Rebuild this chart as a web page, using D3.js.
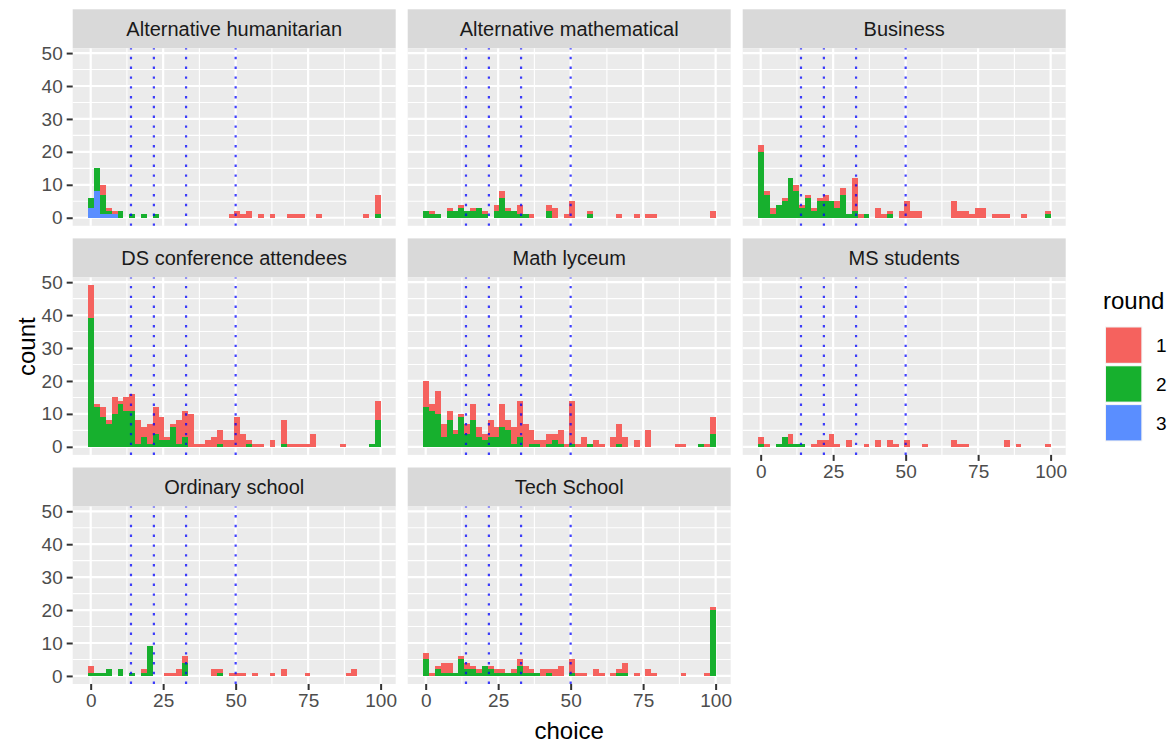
<!DOCTYPE html>
<html>
<head>
<meta charset="utf-8">
<script src="https://cdn.jsdelivr.net/npm/d3@7"></script>
<style>
  html, body { margin: 0; padding: 0; background: #ffffff; }
  svg { display: block; }
  text { font-family: "Liberation Sans", Arial, Helvetica, sans-serif; }
</style>
</head>
<body>
<svg id="chart" width="1175" height="747"></svg>
<script>
// ---------------- DATA ----------------
const facets = ["Alternative humanitarian", "Alternative mathematical", "Business",
                "DS conference attendees", "Math lyceum", "MS students",
                "Ordinary school", "Tech School"];
const rounds = ["1", "2", "3"];
const roundColors = ["#F5625E", "#17B02E", "#5A8EFF"];

// histogram bins: 50 bins from binStart with width binWidth (choice units)
const binStart = -0.8;
const binWidth = 2.016;
const binCount = 50;

const refLines = [13.9, 21.8, 32.9, 50];
const xTicks = [0, 25, 50, 75, 100];
const yTicks = [0, 10, 20, 30, 40, 50];

// counts per bin (50 bins) for each facet and round
const altHumR1 = [0,0,3,1,1, 0,0,0,0,0, 0,0,0,0,0, 0,0,0,0,0, 0,0,0,0,1, 2,1,2,0,1, 0,1,0,0,1, 1,1,0,0,1, 0,0,0,0,0, 0,0,1,0,6];
const altHumR2 = [3,7,6,1,0, 2,0,1,0,1, 0,1,0,0,0, 0,0,0,0,0, 0,0,0,0,0, 0,0,0,0,0, 0,0,0,0,0, 0,0,0,0,0, 0,0,0,0,0, 0,0,0,0,1];
const altHumR3 = [3,8,1,1,1, 0,0,0,0,0, 0,0,0,0,0, 0,0,0,0,0, 0,0,0,0,0, 0,0,0,0,0, 0,0,0,0,0, 0,0,0,0,0, 0,0,0,0,0, 0,0,0,0,0];

const altMathR1 = [0,1,0,0,1, 0,1,0,1,0, 1,0,2,2,1, 0,3,0,1,0, 0,2,3,0,1, 5,0,0,1,0, 0,0,0,1,0, 0,1,0,1,1, 0,0,0,0,0, 0,0,0,0,2];
const altMathR2 = [2,1,1,0,2, 2,3,2,2,3, 1,0,2,6,2, 2,1,1,0,0, 0,2,0,0,0, 0,0,0,1,0, 0,0,0,0,0, 0,0,0,0,0, 0,0,0,0,0, 0,0,0,0,0];

const businessR1 = [2,1,2,0,1, 0,2,1,1,1, 1,2,0,2,2, 0,10,1,0,0, 3,1,1,0,2, 5,2,2,0,0, 0,0,0,5,2, 2,1,3,3,0, 1,1,1,0,0, 1,0,0,0,1];
const businessR2 = [20,7,1,4,5, 12,8,3,6,2, 5,5,5,3,7, 1,2,0,1,0, 0,0,1,0,0, 0,0,0,0,0, 0,0,0,0,0, 0,0,0,0,0, 0,0,0,0,0, 0,0,0,0,1];

const dsR1 = [10,1,3,1,5, 1,4,5,7,3, 6,8,7,1,1, 7,8,10,1,1, 2,3,4,2,2, 9,4,1,1,1, 0,2,0,7,1, 1,1,1,4,0, 0,0,0,1,0, 0,0,0,0,6];
const dsR2 = [39,12,9,7,10, 13,11,11,1,3, 1,4,2,2,6, 1,3,0,0,0, 0,0,1,0,0, 0,0,1,0,0, 0,0,0,1,0, 0,0,0,0,0, 0,0,0,0,0, 0,0,0,1,8];

const mathLycR1 = [8,2,7,4,3, 1,1,3,5,3, 2,5,3,7,3, 5,11,7,4,1, 2,3,2,4,1, 13,1,3,0,2, 1,0,3,6,3, 0,2,0,5,0, 0,0,0,1,1, 0,0,0,1,5];
const mathLycR2 = [12,11,10,3,8, 4,9,4,8,3, 2,3,3,6,5, 1,3,0,1,1, 0,1,2,1,0, 1,0,0,1,0, 0,0,0,1,0, 0,0,0,0,0, 0,0,0,0,0, 0,0,1,0,4];

const msR1 = [2,1,0,0,0, 3,0,0,0,1, 2,2,4,1,0, 2,0,0,1,0, 2,0,2,1,0, 2,0,0,1,0, 0,0,0,2,1, 1,0,0,0,0, 0,0,2,0,1, 0,0,0,0,1];
const msR2 = [1,0,0,1,3, 1,1,1,0,0, 0,0,0,0,0, 0,0,0,0,0, 0,0,0,0,0, 0,0,0,0,0, 0,0,0,0,0, 0,0,0,0,0, 0,0,0,0,0, 0,0,0,0,0];

const ordR1 = [2,0,0,0,0, 0,0,0,0,1, 0,0,0,1,1, 2,2,0,0,0, 0,2,1,0,1, 1,1,0,1,0, 0,1,0,2,0, 0,0,1,0,0, 0,0,0,0,1, 2,0,0,0,0];
const ordR2 = [1,1,1,2,0, 2,0,1,0,1, 9,0,0,0,0, 0,4,0,0,0, 0,0,1,0,0, 0,0,0,0,0, 0,0,0,0,0, 0,0,0,0,0, 0,0,0,0,0, 0,0,0,0,0];

const techR1 = [2,1,1,3,3, 0,1,2,1,1, 0,1,1,1,0, 1,2,2,1,0, 2,1,2,3,0, 4,1,1,0,2, 1,0,1,1,3, 0,1,0,2,1, 0,0,0,0,1, 0,0,0,1,1];
const techR2 = [5,0,2,1,1, 1,5,2,2,1, 3,2,1,1,1, 1,3,1,1,1, 0,1,0,0,0, 1,0,0,0,0, 0,0,0,1,1, 0,0,0,0,0, 0,0,0,0,0, 0,0,0,0,20];

const zeros = new Array(binCount).fill(0);
const facetCounts = [
  [altHumR1, altHumR2, altHumR3],
  [altMathR1, altMathR2, zeros],
  [businessR1, businessR2, zeros],
  [dsR1, dsR2, zeros],
  [mathLycR1, mathLycR2, zeros],
  [msR1, msR2, zeros],
  [ordR1, ordR2, zeros],
  [techR1, techR2, zeros]
];

// ---------------- LAYOUT ----------------
const svg = d3.select("#chart");
const panelW = 323, panelH = 177.5, stripH = 39;
const colLeft = [72.7, 407.7, 742.7];
const rowTop = [48.3, 277.4, 506.5];
const ncol = 3;

const x = d3.scaleLinear().domain([-6.2, 105.2]).range([0, panelW]);
const y = d3.scaleLinear().domain([-2.45, 51.45]).range([panelH, 0]);
const color = d3.scaleOrdinal().domain(rounds).range(roundColors);

const FS_AXIS = 19, FS_STRIP = 20, FS_TITLE = 24;

// which panels get x axes: bottom in each column
const xAxisPanels = new Set([5, 6, 7]);

facets.forEach((name, fi) => {
  const col = fi % ncol, row = Math.floor(fi / ncol);
  const g = svg.append("g").attr("transform", `translate(${colLeft[col]},${rowTop[row]})`);

  // strip
  g.append("rect").attr("x", 0).attr("y", -stripH).attr("width", panelW).attr("height", stripH)
    .attr("fill", "#D9D9D9");
  g.append("text").attr("x", panelW / 2).attr("y", -stripH / 2).attr("dy", "0.36em")
    .attr("text-anchor", "middle").attr("font-size", FS_STRIP).attr("fill", "#1A1A1A").text(name);

  // panel background
  g.append("rect").attr("width", panelW).attr("height", panelH).attr("fill", "#EBEBEB");

  // minor grid
  const yMinor = [5, 15, 25, 35, 45];
  const xMinor = [12.5, 37.5, 62.5, 87.5];
  g.selectAll(".ymin").data(yMinor).join("line")
    .attr("class", "ymin")
    .attr("x1", 0).attr("x2", panelW).attr("y1", d => y(d)).attr("y2", d => y(d))
    .attr("stroke", "#fff").attr("stroke-width", 1.1);
  g.selectAll(".xmin").data(xMinor).join("line")
    .attr("class", "xmin")
    .attr("y1", 0).attr("y2", panelH).attr("x1", d => x(d)).attr("x2", d => x(d))
    .attr("stroke", "#fff").attr("stroke-width", 1.1);
  // major grid
  g.selectAll(".ymaj").data(yTicks).join("line")
    .attr("class", "ymaj")
    .attr("x1", 0).attr("x2", panelW).attr("y1", d => y(d)).attr("y2", d => y(d))
    .attr("stroke", "#fff").attr("stroke-width", 2.2);
  g.selectAll(".xmaj").data(xTicks).join("line")
    .attr("class", "xmaj")
    .attr("y1", 0).attr("y2", panelH).attr("x1", d => x(d)).attr("x2", d => x(d))
    .attr("stroke", "#fff").attr("stroke-width", 2.2);

  // stacked bars
  const counts = facetCounts[fi];
  const table = d3.range(binCount).map(i => ({
    i: i,
    "1": counts[0][i], "2": counts[1][i], "3": counts[2][i]
  }));
  const stack = d3.stack().keys(["3", "2", "1"]);
  const series = stack(table);
  series.forEach(s => {
    g.append("g").selectAll("rect")
      .data(s.filter(d => d[1] - d[0] > 0))
      .join("rect")
      .attr("x", d => x(binStart + d.data.i * binWidth))
      .attr("width", d => x(binStart + (d.data.i + 1) * binWidth) - x(binStart + d.data.i * binWidth))
      .attr("y", d => y(d[1]))
      .attr("height", d => y(d[0]) - y(d[1]))
      .attr("fill", color(s.key))
      .attr("shape-rendering", "crispEdges");
  });

  // reference dotted lines
  g.selectAll(".vref").data(refLines).join("line")
    .attr("class", "vref")
    .attr("x1", d => x(d)).attr("x2", d => x(d))
    .attr("y1", panelH).attr("y2", 0)
    .attr("stroke", "#0000FF").attr("stroke-opacity", 0.75)
    .attr("stroke-width", 2.2).attr("stroke-dasharray", "2.4 7.4");

  // y axis (first column)
  if (col === 0) {
    const ya = g.append("g").call(d3.axisLeft(y).tickValues(yTicks).tickSize(6).tickPadding(4));
    ya.select(".domain").remove();
    ya.selectAll(".tick line").attr("stroke", "#333333").attr("stroke-width", 2);
    ya.selectAll(".tick text").attr("font-size", FS_AXIS).attr("fill", "#4D4D4D")
      .attr("font-family", "Liberation Sans, Arial, sans-serif");
  }
  // x axis (bottom panel of each column)
  if (xAxisPanels.has(fi)) {
    const xa = g.append("g").attr("transform", `translate(0,${panelH})`)
      .call(d3.axisBottom(x).tickValues(xTicks).tickSize(6).tickPadding(4));
    xa.select(".domain").remove();
    xa.selectAll(".tick line").attr("stroke", "#333333").attr("stroke-width", 2);
    xa.selectAll(".tick text").attr("font-size", FS_AXIS).attr("fill", "#4D4D4D")
      .attr("font-family", "Liberation Sans, Arial, sans-serif");
  }
});

// axis titles
svg.append("text").attr("x", (colLeft[0] + colLeft[2] + panelW) / 2).attr("y", 739)
  .attr("text-anchor", "middle").attr("font-size", FS_TITLE).attr("fill", "#000").text("choice");
svg.append("text")
  .attr("transform", `translate(35,${(rowTop[0] - stripH + rowTop[2] + panelH) / 2}) rotate(-90)`)
  .attr("text-anchor", "middle").attr("font-size", FS_TITLE).attr("fill", "#000").text("count");

// legend
const lg = svg.append("g").attr("transform", "translate(1103,0)");
lg.append("text").attr("x", 0).attr("y", 309).attr("font-size", FS_TITLE).attr("fill", "#000").text("round");
rounds.forEach((r, i) => {
  const ky = 326.5 + i * 38.8;
  lg.append("rect").attr("x", 2).attr("y", ky).attr("width", 37.3).attr("height", 37.3)
    .attr("fill", "#F2F2F2");
  lg.append("rect").attr("x", 3).attr("y", ky + 1).attr("width", 35.3).attr("height", 35.3)
    .attr("fill", color(r));
  lg.append("text").attr("x", 53).attr("y", ky + 18.6).attr("dy", "0.36em")
    .attr("font-size", FS_AXIS).attr("fill", "#000").text(r);
});
</script>
</body>
</html>
